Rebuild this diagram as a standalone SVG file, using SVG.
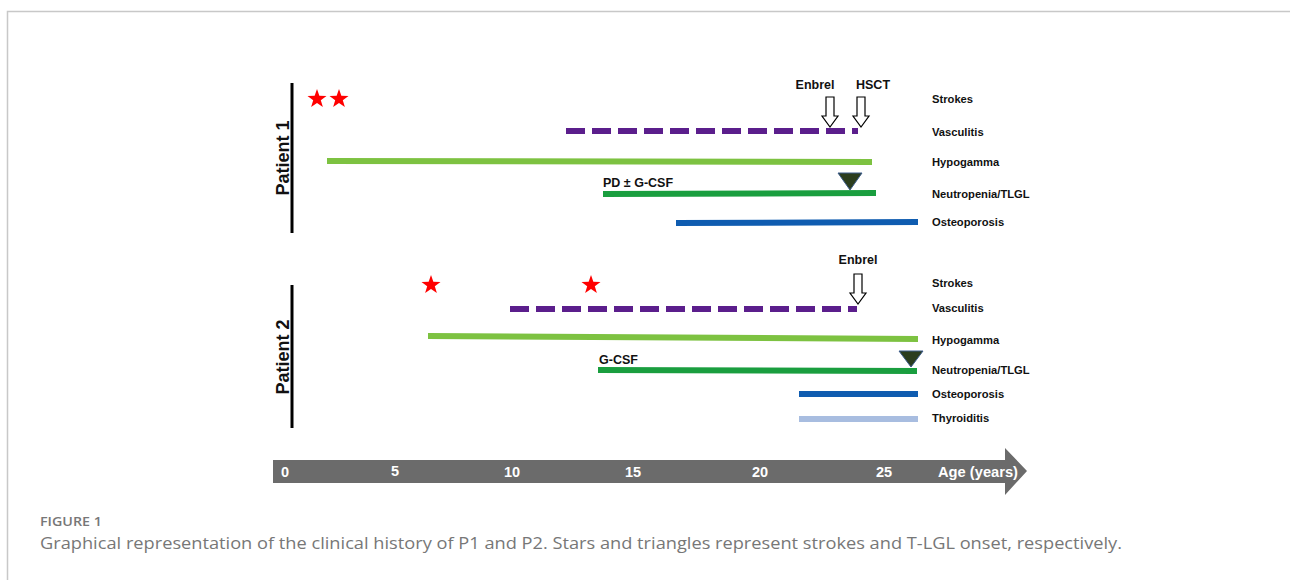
<svg xmlns="http://www.w3.org/2000/svg" width="1290" height="580" viewBox="0 0 1290 580">
<style>
.lbl{font-family:"Liberation Sans",Arial,sans-serif;font-weight:bold;font-size:11.2px;fill:#111}
.ann{font-family:"Liberation Sans",Arial,sans-serif;font-weight:bold;font-size:12.5px;fill:#111}
.pt{font-family:"Liberation Sans",Arial,sans-serif;font-weight:bold;font-size:18px;fill:#111}
.ax{font-family:"Liberation Sans",Arial,sans-serif;font-weight:bold;font-size:14.5px;fill:#fff}
.bar{stroke-width:6;fill:none}
.vas{stroke:#5b1e8c;stroke-dasharray:19 7}
.hyp{stroke:#7dc241}
.neu{stroke:#1a9e3f}
.ost{stroke:#0f5cb0}
.thy{stroke:#a8bde0}
.star{fill:#ff0000}
.tri{fill:#2b3d1e;stroke:#3a5a8a;stroke-width:1}
.arr{fill:#fff;stroke:#000;stroke-width:1.2}
.cap{font-family:"Open Sans","Noto Sans",sans-serif;fill:#777}
</style>
<defs>
<polygon id="st" points="0,-10 2.35,-3.24 9.51,-3.09 3.8,1.24 5.88,8.09 0,4 -5.88,8.09 -3.8,1.24 -9.51,-3.09 -2.35,-3.24"/>
<path id="da" d="M-4,0 V19 H-8 L0,30 L8,19 H4 V0 Z"/>
</defs>
<rect x="0" y="0" width="1290" height="580" fill="#fff"/>
<path d="M7.5,580 V11.5 H1290" fill="none" stroke="#c8c8c8" stroke-width="1.5"/>

<g id="patient1">
<line x1="292" y1="83" x2="292" y2="233" stroke="#000" stroke-width="3"/>
<text class="pt" transform="translate(289,158) rotate(-90)" text-anchor="middle">Patient 1</text>
</g>
<g id="p1-strokes">
<use href="#st" x="317" y="99" class="star"/>
<use href="#st" x="339" y="99" class="star"/>
<text class="lbl" x="932" y="103">Strokes</text>
</g>
<g id="p1-enbrel">
<text class="ann" x="815" y="89" text-anchor="middle">Enbrel</text>
<use href="#da" x="830" y="97" class="arr"/>
</g>
<g id="p1-hsct">
<text class="ann" x="873" y="89" text-anchor="middle">HSCT</text>
<use href="#da" x="861" y="97" class="arr"/>
</g>
<g id="p1-vasculitis">
<line class="bar vas" x1="566" y1="131" x2="858" y2="131"/>
<text class="lbl" x="932" y="136">Vasculitis</text>
</g>
<g id="p1-hypogamma">
<line class="bar hyp" x1="327" y1="161" x2="872" y2="162"/>
<text class="lbl" x="932" y="166">Hypogamma</text>
</g>
<g id="p1-neutropenia">
<text class="ann" x="603" y="187">PD ± G-CSF</text>
<line class="bar neu" x1="603" y1="194" x2="876" y2="193"/>
<polygon class="tri" points="838,173 862,173 850,190"/>
<text class="lbl" x="932" y="198">Neutropenia/TLGL</text>
</g>
<g id="p1-osteoporosis">
<line class="bar ost" x1="676" y1="223" x2="918" y2="222"/>
<text class="lbl" x="932" y="226">Osteoporosis</text>
</g>

<g id="patient2">
<line x1="292" y1="285" x2="292" y2="428" stroke="#000" stroke-width="3"/>
<text class="pt" transform="translate(289,357) rotate(-90)" text-anchor="middle">Patient 2</text>
</g>
<g id="p2-strokes">
<use href="#st" x="431" y="285" class="star"/>
<use href="#st" x="591" y="285" class="star"/>
<text class="lbl" x="932" y="287">Strokes</text>
</g>
<g id="p2-enbrel">
<text class="ann" x="858" y="264" text-anchor="middle">Enbrel</text>
<use href="#da" x="858" y="274" class="arr"/>
</g>
<g id="p2-vasculitis">
<line class="bar vas" x1="510" y1="309" x2="857" y2="309"/>
<text class="lbl" x="932" y="312">Vasculitis</text>
</g>
<g id="p2-hypogamma">
<line class="bar hyp" x1="428" y1="336" x2="918" y2="339"/>
<text class="lbl" x="932" y="344">Hypogamma</text>
</g>
<g id="p2-neutropenia">
<text class="ann" x="599" y="364">G-CSF</text>
<line class="bar neu" x1="598" y1="370" x2="917" y2="371"/>
<polygon class="tri" points="899,351 923,351 911,367"/>
<text class="lbl" x="932" y="374">Neutropenia/TLGL</text>
</g>
<g id="p2-osteoporosis">
<line class="bar ost" x1="799" y1="394" x2="918" y2="394"/>
<text class="lbl" x="932" y="398">Osteoporosis</text>
</g>
<g id="p2-thyroiditis">
<line class="bar thy" x1="799" y1="419" x2="918" y2="419"/>
<text class="lbl" x="932" y="422">Thyroiditis</text>
</g>

<g id="axis">
<polygon points="273,460 1005,460 1005,448 1027,471 1005,495 1005,483 273,483" fill="#6b6b6b"/>
<text class="ax" x="285" y="477" text-anchor="middle">0</text>
<text class="ax" x="395" y="476" text-anchor="middle">5</text>
<text class="ax" x="512" y="477" text-anchor="middle">10</text>
<text class="ax" x="633" y="477" text-anchor="middle">15</text>
<text class="ax" x="760" y="477" text-anchor="middle">20</text>
<text class="ax" x="884" y="477" text-anchor="middle">25</text>
<text class="ax" x="938" y="477" textLength="80" lengthAdjust="spacingAndGlyphs">Age (years)</text>
</g>

<g id="caption">
<text class="cap" x="40" y="526" font-size="13" font-weight="600" textLength="62" lengthAdjust="spacingAndGlyphs">FIGURE 1</text>
<text class="cap" x="40" y="549" font-size="17" textLength="1082" lengthAdjust="spacingAndGlyphs">Graphical representation of the clinical history of P1 and P2. Stars and triangles represent strokes and T-LGL onset, respectively.</text>
</g>
</svg>
